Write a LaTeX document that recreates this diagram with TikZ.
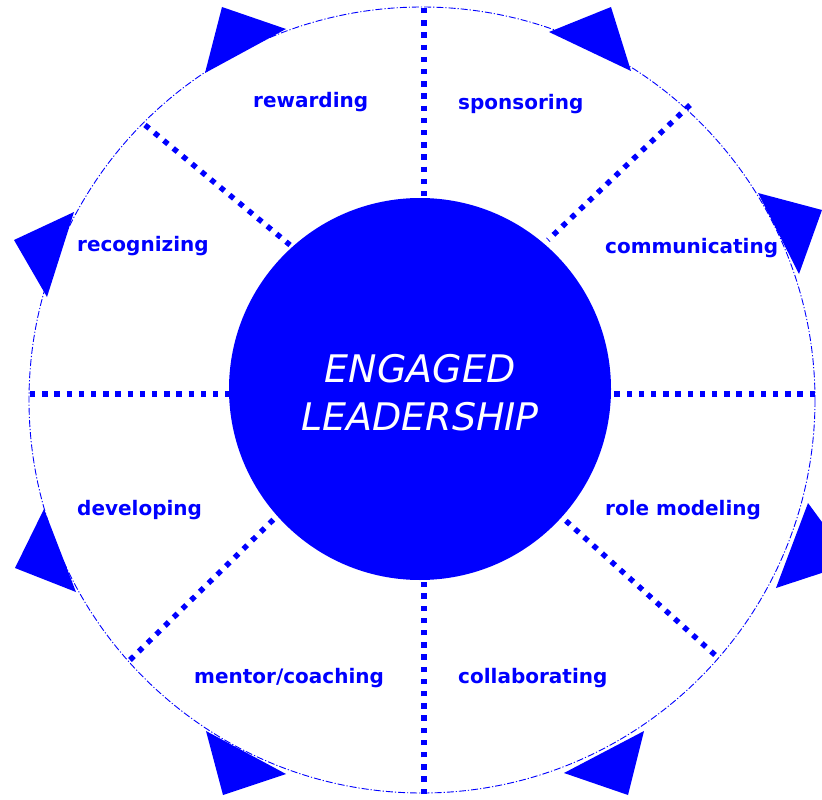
\documentclass[tikz,border=0pt]{standalone}
\usepackage{fontspec}
\setmainfont{DejaVu Sans}
\begin{document}
\begin{tikzpicture}[x=1pt,y=-1pt,
  lbl/.style={anchor=base west,text=blue,inner sep=0pt,font=\fontsize{20}{23}\selectfont\bfseries},
  ctr/.style={anchor=base,text=white,inner sep=0pt,font=\fontsize{38}{44}\selectfont\itshape},
  radial/.style={draw=blue,line width=5.4pt,dash pattern=on 5.4pt off 6.8pt},
  rim/.style={draw=blue,line width=0.9pt,dash pattern=on 7pt off 2pt on 1.2pt off 2pt},
  tri/.style={fill=blue,draw=none}]
\useasboundingbox (0,0) rectangle (822,800);
\clip (0,0) rectangle (822,800);
% outer dash-dot circle
\coordinate (oc) at (422,400);
\draw[rim] (oc) circle [radius=393];
% radial dotted lines
\coordinate (a1) at (30,394);   \coordinate (a2) at (232,394);
\coordinate (b1) at (610,394);  \coordinate (b2) at (815,394);
\coordinate (c1) at (424,8);    \coordinate (c2) at (424,196);
\coordinate (d1) at (424,582);  \coordinate (d2) at (424,794);
\coordinate (e1) at (145,125);  \coordinate (e2) at (290,245);
\coordinate (f1) at (690,105);  \coordinate (f2) at (548,240);
\coordinate (g1) at (565,520);  \coordinate (g2) at (715,655);
\coordinate (h1) at (275,518);  \coordinate (h2) at (130,660);
\draw[radial] (a1) -- (a2);
\draw[radial] (b2) -- (b1);
\draw[radial] (c1) -- (c2);
\draw[radial] (d2) -- (d1);
\draw[radial] (e1) -- (e2);
\draw[radial] (f1) -- (f2);
\draw[radial] (g2) -- (g1);
\draw[radial] (h2) -- (h1);
% inner circle
\node[circle,fill=blue,minimum size=382pt,inner sep=0pt] (core) at (420,389) {};
\node[ctr] (t1) at (420,382) {ENGAGED};
\node[ctr] (t2) at (420,430) {LEADERSHIP};
% triangles
\fill[tri] (222,7) -- (286,29) -- (205,73) -- cycle;
\fill[tri] (611,7) -- (549,32) -- (631,71) -- cycle;
\fill[tri] (758,193) -- (822,210) -- (799,274) -- cycle;
\fill[tri] (808,503) -- (852,563) -- (776,588) -- cycle;
\fill[tri] (564,773) -- (644,731) -- (628,795) -- cycle;
\fill[tri] (206,731) -- (286,774) -- (223,795) -- cycle;
\fill[tri] (74,212) -- (14,240) -- (47,297) -- cycle;
\fill[tri] (44,509) -- (15,568) -- (76,592) -- cycle;
% labels
\node[lbl] (l1) at (253,107) {rewarding};
\node[lbl] (l2) at (458,110) {sponsoring};
\node[lbl] (l3) at (77,251) {recognizing};
\node[lbl] (l4) at (605,253) {communicating};
\node[lbl] (l5) at (77,515) {developing};
\node[lbl] (l6) at (605,515) {role modeling};
\node[lbl] (l7) at (194,683) {mentor/coaching};
\node[lbl] (l8) at (458,683) {collaborating};
\end{tikzpicture}
\end{document}
